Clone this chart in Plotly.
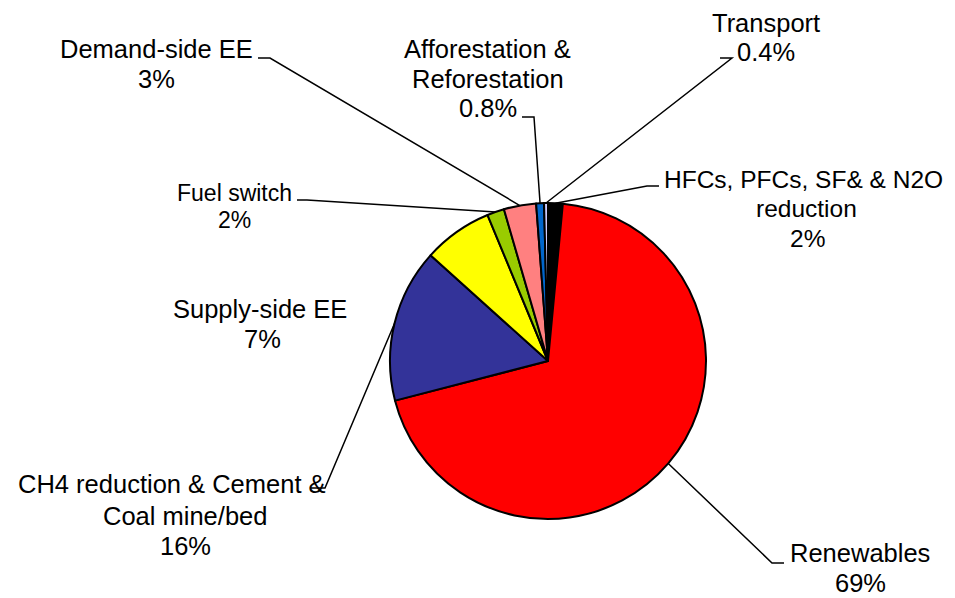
import math
import plotly.graph_objects as go

# ---- data ----
categories = ["HFCs, PFCs, SF& & N2O|reduction", "Renewables",
              "CH4 reduction & Cement &|Coal mine/bed", "Supply-side EE",
              "Fuel switch", "Demand-side EE",
              "Afforestation &|Reforestation", "Transport"]
values = [1.5, 69.5, 15.7, 7.1, 1.75, 3.3, 0.8, 0.4]
pct_labels = ["2%", "69%", "16%", "7%", "2%", "3%", "0.8%", "0.4%"]
colors = ["#000000", "#FF0000", "#333399", "#FFFF00", "#99CC00", "#FF8080", "#0066CC", "#CCCCFF"]

# ---- layout constants (screen pixels; page body has an 8px margin) ----
OFF = 8
FW, FH = 955 - OFF, 598 - OFF
CX, CY, R = 548, 361, 158
FONT = "Liberation Sans, Arial, sans-serif"

# per label: list of line centers (x, y), font size
line_pos = [
    [(803, 179), (806, 208), (807, 238)],
    [(860, 553), (860, 583)],
    [(172, 484), (185, 516), (185, 546)],
    [(260, 309), (262, 339)],
    [(234, 193), (234, 220)],
    [(156, 49), (156, 79)],
    [(488, 49), (488, 79), (488, 108)],
    [(766, 23), (766, 52)],
]
label_size = [24.5, 25.5, 25.5, 25.5, 23, 25.5, 25.5, 25.5]
stubs = [((659, 186), (647, 186)), ((784, 563), (772, 563)),
         ((310, 488), (325, 488)), None,
         ((297, 200), (307, 200)), ((258, 58), (270, 58)),
         ((522, 117), (534, 117)), ((720, 58), (732, 58))]


def px(x, y):
    return (x - OFF) / FW, 1 - (y - OFF) / FH


x0, y1 = px(CX - R, CY - R)
x1, y0 = px(CX + R, CY + R)

fig = go.Figure(go.Pie(
    labels=[c.replace("|", " ") for c in categories], values=values, sort=False,
    direction="clockwise", rotation=0,
    marker=dict(colors=colors, line=dict(color="black", width=2)),
    textinfo="none", hoverinfo="label+percent", showlegend=False,
    domain=dict(x=[x0, x1], y=[y0, y1]),
))

total = sum(values)
cum = 0
annotations = []
shapes = []
for i, v in enumerate(values):
    mid = (cum + v / 2) / total * 2 * math.pi
    cum += v
    ex, ey = CX + R * math.sin(mid), CY - R * math.cos(mid)
    lines = categories[i].split("|") + [pct_labels[i]]
    for txt, (lx, ly) in zip(lines, line_pos[i]):
        ax_, ay_ = px(lx, ly)
        annotations.append(dict(
            x=ax_, y=ay_, xref="paper", yref="paper", text=txt, showarrow=False,
            xanchor="center", yanchor="middle", align="center", borderpad=0,
            font=dict(family=FONT, size=label_size[i], color="black")))
    if stubs[i] is not None:
        (sx, sy), (bx, by) = stubs[i]
        p0, p1, p2 = px(sx, sy), px(bx, by), px(ex, ey)
        path = f"M {p0[0]} {p0[1]} L {p1[0]} {p1[1]} L {p2[0]} {p2[1]}"
        shapes.append(dict(type="path", path=path, xref="paper", yref="paper",
                           line=dict(color="black", width=1.5)))

fig.update_layout(
    width=FW, height=FH, margin=dict(l=0, r=0, t=0, b=0),
    paper_bgcolor="white", plot_bgcolor="white",
    annotations=annotations, shapes=shapes,
    font=dict(family=FONT),
)
fig.write_html("out.html")
